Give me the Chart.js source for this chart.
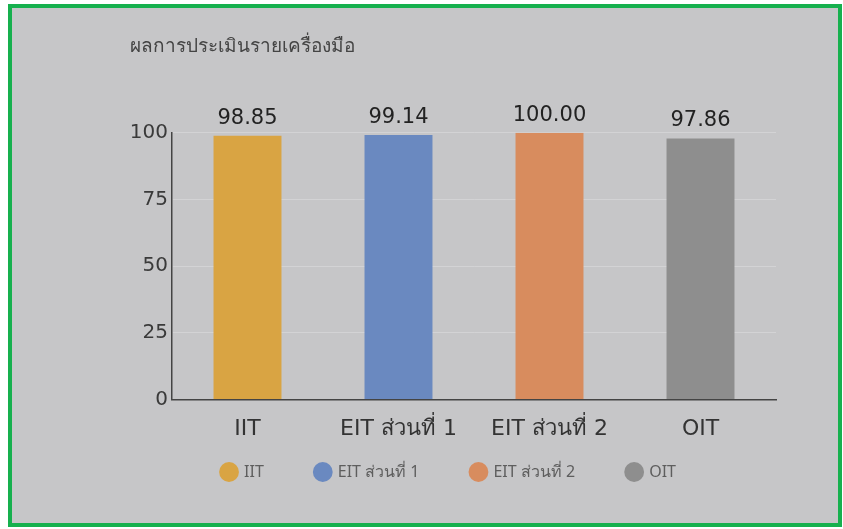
<!DOCTYPE html>
<html>
<head>
<meta charset="utf-8">
<script src="https://cdnjs.cloudflare.com/ajax/libs/Chart.js/4.4.1/chart.umd.js"></script>
<style>
  html,body{margin:0;padding:0;background:#fff;}
  .frame{position:absolute;left:8px;top:4px;width:826px;height:515px;border:4px solid #16b04e;background:#c6c6c8;}
  .frame canvas{display:block;}
</style>
</head>
<body>
<div class="frame"><canvas id="c"></canvas></div>
<script>
const categories=['IIT','EIT ส่วนที่ 1','EIT ส่วนที่ 2','OIT'];
const scores=[98.85,99.14,100.00,97.86];
const barColors=['#d9a443','#6a89c0','#d88c5e','#8e8e8e'];
const yTicks=[0,25,50,75,100];
const titleText='ผลการประเมินรายเครื่องมือ';
const FONT="'DejaVu Sans','Noto Sans',sans-serif";
const LEGEND_LIFT=38;
const LEGEND_SHIFT=4;

const valueLabels={
  id:'valueLabels',
  afterDatasetsDraw(chart){
    const ctx=chart.ctx;
    const meta=chart.getDatasetMeta(0);
    ctx.save();
    ctx.font='21px '+FONT;
    ctx.fillStyle='#222';
    ctx.textAlign='center';
    ctx.textBaseline='bottom';
    meta.data.forEach((bar,i)=>{
      ctx.fillText(scores[i].toFixed(2),bar.x,bar.y-7);
    });
    ctx.restore();
  }
};

// legend keeps wide gaps between items but sits closer to the axis labels
const tightLegend={
  id:'tightLegend',
  beforeLayout(chart){
    const lg=chart.legend;
    if(lg&&!lg._tight){
      const fit=lg.fit.bind(lg);
      lg.fit=function(){fit();this.height-=LEGEND_LIFT;};
      lg._tight=true;
    }
  },
  afterLayout(chart){
    const lg=chart.legend;
    if(lg){
      lg.top-=LEGEND_LIFT;lg.height+=LEGEND_LIFT;
      lg.left-=LEGEND_SHIFT;lg.right-=LEGEND_SHIFT;
    }
  }
};

new Chart(document.getElementById('c'),{
  type:'bar',
  data:{labels:categories,datasets:[{data:scores,backgroundColor:barColors,borderWidth:0,categoryPercentage:1,barPercentage:0.45}]},
  options:{
    responsive:true,maintainAspectRatio:false,animation:false,
    layout:{padding:{left:118,right:62,top:27,bottom:33}},
    plugins:{
      title:{display:true,text:titleText,align:'start',color:'#444',font:{size:19,family:"'Noto Sans',sans-serif",weight:'normal'},padding:{top:0,bottom:75}},
      tooltip:{enabled:false},
      legend:{
        position:'bottom',
        labels:{
          usePointStyle:true,pointStyle:'circle',boxWidth:14,boxHeight:14,padding:52,
          color:'#5e5e5e',font:{size:16,family:"'Noto Sans',sans-serif"},
          generateLabels:()=>categories.map((c,i)=>({text:c,fillStyle:barColors[i],strokeStyle:barColors[i],fontColor:'#5e5e5e',lineWidth:0,pointStyle:'circle',hidden:false,index:i}))
        }
      }
    },
    scales:{
      x:{
        grid:{display:false},
        border:{color:'#444',width:1.5},
        ticks:{color:'#333',font:{size:22,family:FONT},padding:8}
      },
      y:{
        min:0,max:100,
        afterBuildTicks:s=>{s.ticks=yTicks.map(v=>({value:v}));},
        grid:{color:'rgba(235,235,238,0.35)',drawTicks:false},
        border:{color:'#444',width:1.5},
        ticks:{color:'#3a3a3a',font:{size:20,family:FONT},padding:4},
        afterFit:s=>{s.width=42;}
      }
    }
  },
  plugins:[valueLabels,tightLegend]
});
</script>
</body>
</html>
